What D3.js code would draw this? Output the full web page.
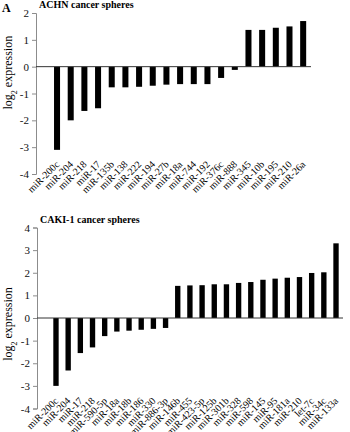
<!DOCTYPE html>
<html>
<head>
<meta charset="utf-8">
<script src="https://cdn.jsdelivr.net/npm/d3@7"></script>
<style>
  body { margin: 0; background: #fff; }
  svg { display: block; font-family: "Liberation Serif", "Times New Roman", serif; }
</style>
</head>
<body>
<div id="chart"></div>
<script>
// ---- data ----
const achnLabels = ["miR-200c", "miR-204", "miR-218", "miR-17", "miR-135b", "miR-138", "miR-222",
  "miR-194", "miR-27b", "miR-18a", "miR-744", "miR-192", "miR-376c", "miR-888", "miR-345",
  "miR-10b", "miR-195", "miR-210", "miR-26a"];
const achnValues = [-3.1, -2.0, -1.65, -1.55, -0.77, -0.77, -0.75, -0.71, -0.67, -0.65, -0.65,
  -0.65, -0.42, -0.12, 1.37, 1.37, 1.45, 1.5, 1.7];

const cakiLabels = ["miR-200c", "miR-204", "miR-17", "miR-218", "miR-590-5p", "miR-18a", "miR-18b",
  "miR-186", "miR-330", "miR-886-3p", "miR-146b", "miR-455", "miR-423-5p", "miR-125b", "miR-301b",
  "miR-328", "miR-598", "miR-145", "miR-95", "miR-181a", "miR-210", "let-7c", "miR-34c", "miR-133a"];
const cakiValues = [-3.0, -2.32, -1.55, -1.3, -0.8, -0.6, -0.56, -0.52, -0.48, -0.44, 1.42, 1.44,
  1.45, 1.49, 1.49, 1.55, 1.59, 1.69, 1.74, 1.78, 1.81, 1.99, 2.02, 3.3];

const achnTicks = [-4, -3, -2, -1, 0, 1, 2];
const cakiTicks = [-4, -3, -2, -1, 0, 1, 2, 3, 4];

const width = 350, height = 432;

const svg = d3.select("#chart").append("svg")
  .attr("width", width)
  .attr("height", height);

// panel letter
svg.append("text")
  .attr("x", 2).attr("y", 12)
  .style("font-size", "12px").style("font-weight", "bold")
  .text("A");

// ---- one panel ----
function drawPanel(cfg) {
  const g = svg.append("g");

  const y = d3.scaleLinear().domain(cfg.domain).range(cfg.yRange);
  const x = d3.scaleBand()
    .domain(cfg.labels)
    .range(cfg.xRange)
    .paddingInner(0.56)
    .paddingOuter(0.28);

  // title
  g.append("text")
    .attr("x", cfg.titleX).attr("y", cfg.titleY)
    .style("font-size", "10px").style("font-weight", "bold")
    .text(cfg.title);

  // y axis
  const yAxis = g.append("g")
    .attr("transform", `translate(${cfg.axisX},0)`)
    .call(d3.axisLeft(y).tickValues(cfg.ticks).tickSize(4).tickPadding(3).tickFormat(d => String(d)));
  yAxis.select(".domain").attr("stroke", "#8c8c8c");
  yAxis.selectAll(".tick line").attr("stroke", "#8c8c8c");
  yAxis.selectAll(".tick text")
    .style("font-family", "'Liberation Serif', serif")
    .style("font-size", "11px")
    .attr("fill", "#111");

  // y label
  g.append("text")
    .attr("transform", `translate(12,${y(0) + 6}) rotate(-90)`)
    .attr("text-anchor", "middle")
    .style("font-size", "12px")
    .call(t => {
      t.append("tspan").text("log");
      t.append("tspan").attr("baseline-shift", "sub").style("font-size", "8px").text("2");
      t.append("tspan").text(" expression");
    });

  // bars
  g.append("g").selectAll("rect")
    .data(cfg.values)
    .join("rect")
    .attr("x", (d, i) => x(cfg.labels[i]))
    .attr("width", x.bandwidth())
    .attr("y", d => y(Math.max(0, d)))
    .attr("height", d => Math.abs(y(d) - y(0)))
    .attr("fill", "#000");

  // zero line
  g.append("line")
    .attr("x1", cfg.axisX).attr("x2", cfg.zeroEnd)
    .attr("y1", y(0)).attr("y2", y(0))
    .attr("stroke", "#333").attr("stroke-width", 1);

  // category labels, rotated
  const labY = y(cfg.domain[0]) - cfg.labelLift;
  g.append("g").selectAll("text")
    .data(cfg.labels)
    .join("text")
    .attr("transform", d => `translate(${x(d) + x.bandwidth() / 2 + 3},${labY}) rotate(-45)`)
    .attr("text-anchor", "end")
    .style("font-size", "10px")
    .text(d => d);
}

drawPanel({
  title: "ACHN cancer spheres", titleX: 39, titleY: 8,
  labels: achnLabels, values: achnValues, ticks: achnTicks,
  domain: [-4, 2], yRange: [174, 13],
  xRange: [50.2, 310], axisX: 36, zeroEnd: 311, labelLift: 9
});

drawPanel({
  title: "CAKI-1 cancer spheres", titleX: 40, titleY: 223,
  labels: cakiLabels, values: cakiValues, ticks: cakiTicks,
  domain: [-4, 4], yRange: [408.5, 227.5],
  xRange: [49.9, 342.1], axisX: 37, zeroEnd: 343, labelLift: 7
});
</script>
</body>
</html>
